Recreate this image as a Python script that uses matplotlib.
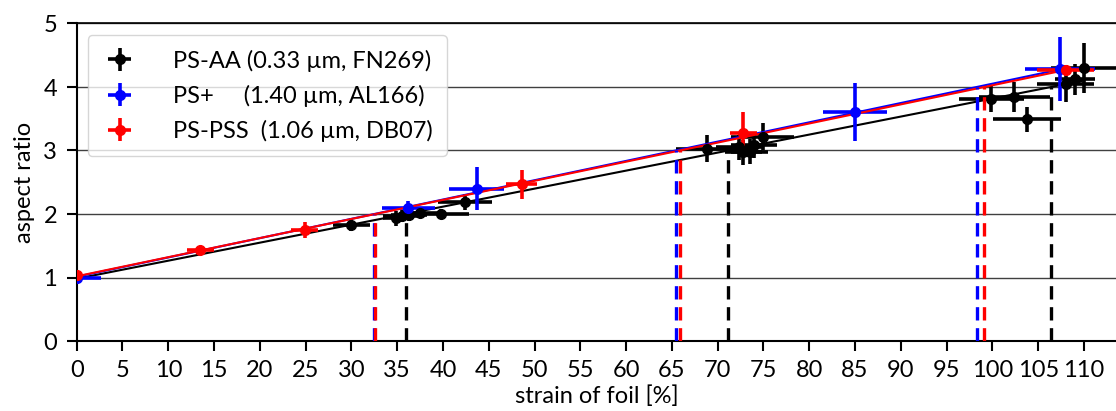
import numpy as np
import matplotlib
matplotlib.use('Agg')
from matplotlib import pyplot as plt

plt.rcParams['font.family'] = ['Lato', 'DejaVu Sans']
plt.rcParams['font.size'] = 17

# PS-AA (black)
aa_x = [30.0, 34.9, 35.5, 36.3, 37.5, 39.8, 42.4, 68.8, 72.3, 72.8, 73.5, 74.0, 74.9,
        99.9, 102.4, 103.8, 108.0, 109.0, 110.0]
aa_y = [1.83, 1.93, 1.97, 1.99, 2.02, 2.00, 2.19, 3.03, 3.05, 2.97, 2.98, 3.08, 3.22,
        3.81, 3.84, 3.49, 4.05, 4.12, 4.30]
aa_xerr = [2.0, 1.5, 2.0, 2.0, 2.0, 3.0, 2.9, 3.4, 2.5, 2.0, 2.0, 2.5, 3.4,
           3.6, 3.9, 3.7, 3.1, 2.2, 3.6]
aa_yerr = [0.10, 0.12, 0.10, 0.10, 0.08, 0.08, 0.12, 0.21, 0.20, 0.20, 0.20, 0.20, 0.22,
           0.20, 0.24, 0.20, 0.29, 0.25, 0.40]

# PS+ (blue)
pp_x = [0.0, 36.2, 43.7, 85.0, 107.4]
pp_y = [1.00, 2.09, 2.40, 3.61, 4.28]
pp_xerr = [2.6, 2.9, 3.0, 3.5, 3.8]
pp_yerr = [0.05, 0.11, 0.34, 0.46, 0.50]

# PS-PSS (red)
pss_x = [0.0, 13.5, 24.9, 48.6, 72.8, 108.0]
pss_y = [1.04, 1.43, 1.75, 2.47, 3.27, 4.26]
pss_xerr = [0.5, 1.5, 1.5, 1.7, 1.5, 3.1]
pss_yerr = [0.05, 0.05, 0.13, 0.23, 0.33, 0.08]

# linear fits: intercept, slope, end of fit range
fit_aa = (0.981, 0.02837, 110.0)
fit_pp = (1.012, 0.0304, 107.4)
fit_pss = (1.019, 0.03008, 108.0)

levels = [2, 3, 4]

series = [
    ('PS-AA (0.33 µm, FN269)', 'black', aa_x, aa_y, aa_xerr, aa_yerr, fit_aa),
    ('PS+     (1.40 µm, AL166)', 'blue', pp_x, pp_y, pp_xerr, pp_yerr, fit_pp),
    ('PS-PSS  (1.06 µm, DB07)', 'red', pss_x, pss_y, pss_xerr, pss_yerr, fit_pss),
]

fig = plt.figure(figsize=(11.16, 4.11), dpi=100)
ax = fig.add_axes([76.7 / 1116, 70 / 411, 1039.3 / 1116, 317.5 / 411])

for label, col, x, y, xe, ye, fit in series:
    a, b, xend = fit
    xx = np.array([0, xend])
    ax.plot(xx, a + b * xx, color=col, lw=1.5, zorder=3)
    ax.errorbar(x, y, xerr=xe, yerr=ye, fmt='o', color=col, ms=7,
                elinewidth=2.6, capsize=0, label=label, zorder=3)

# dashed markers where each fit reaches aspect ratio 2, 3, 4
for label, col, x, y, xe, ye, fit in series:
    a, b, xend = fit
    for lv in levels:
        xc = (lv - a) / b
        if xc > 0 and xc < 113:
            ax.plot([xc, xc], [0, lv], color=col, lw=2.4, ls=(0, (4, 2.3)), zorder=4)

ax.set_xlim(0, 113.5)
ax.set_ylim(0, 5)
ax.set_xticks(np.arange(0, 111, 5))
ax.set_yticks(np.arange(0, 6, 1))
ax.yaxis.grid(True, color='#404040', lw=1.0)
ax.set_axisbelow(True)
ax.spines['right'].set_visible(False)
for s in ['left', 'bottom']:
    ax.spines[s].set_linewidth(1.5)
ax.spines['top'].set_linewidth(1.2)
ax.tick_params(direction='out', length=7, width=1.5, pad=7)

ax.set_xlabel('strain of foil [%]', labelpad=3)
ax.set_ylabel('aspect ratio', labelpad=6)

ax.legend(loc='upper left', bbox_to_anchor=(11 / 1039.3, 1 - 12 / 317.5),
          borderaxespad=0, handlelength=1.5, handletextpad=1.5,
          labelspacing=0.55, borderpad=0.6, fancybox=True,
          framealpha=0.8, edgecolor='#cccccc')

plt.savefig('out.png', dpi=100)
